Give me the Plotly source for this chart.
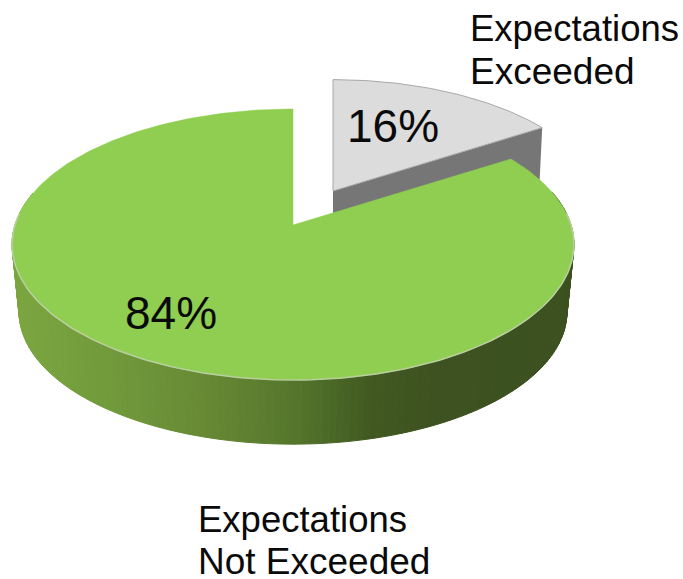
import numpy as np
import plotly.graph_objects as go

# Data
categories = ["Expectations Exceeded", "Expectations Not Exceeded"]
values = [16, 84]
value_labels = ["16%", "84%"]

# Geometry of the drawing (pixels)
CX, CY, A, B, K = 293, 225, 278, 132.7, 0.144
EX_DX, EX_DY, EX_S = 40, -34, 0.96
SHRINK, DROP = 0.975, 68

GREEN = "#8fce50"
GREY = "#dcdcdc"
GREY_SIDE = "#767676"
RIM = "#b9cfa0"
STOPS = [(12, (124, 166, 64)), (100, (114, 156, 60)), (200, (104, 138, 54)),
         (290, (86, 120, 44)), (370, (66, 90, 34)), (430, (62, 83, 32)), (575, (60, 80, 32))]


def project(theta, r=1.0):
    """Angle clockwise from 12 o'clock onto the tilted pie's top face."""
    u, v = r * np.sin(theta), r * np.cos(theta)
    s = 1 / (1 + K * v)
    return A * u * s, -B * v * s


def extrude(dx, dy):
    return CX + dx * SHRINK, CY + dy * SHRINK + DROP


def side_colour(x):
    xs = [p[0] for p in STOPS]
    rgb = [int(np.interp(x, xs, [p[1][i] for p in STOPS])) for i in range(3)]
    return f"rgb({rgb[0]},{rgb[1]},{rgb[2]})"


def poly(xs, ys, fill, line=None, width=0):
    return go.Scatter(x=list(xs), y=list(ys), mode="lines", fill="toself", fillcolor=fill,
                      line=dict(color=line or fill, width=width), hoverinfo="skip", showlegend=False)


split = 2 * np.pi * values[0] / sum(values)
fig = go.Figure()

# Exploded slice: cut-face side, then its top
tg = np.linspace(0, split, 60)
gx, gy = project(tg)
gx = CX + EX_DX + gx * EX_S
gy = CY + EX_DY + gy * EX_S
tipx, tipy = CX + EX_DX, CY + EX_DY
fig.add_trace(poly([tipx, gx[-1], gx[-1] - 3, tipx, tipx], [tipy, gy[-1], gy[-1] + 62, tipy + 62, tipy], GREY_SIDE))
fig.add_trace(poly(np.r_[tipx, gx, tipx], np.r_[tipy, gy, tipy], GREY, "#a8a8a8", 1))

# Main slice: rim as narrow strips shaded along x (only the part facing the viewer)
rim_t = np.linspace(split, 2 * np.pi, 241)
for t0, t1 in zip(rim_t[:-1], rim_t[1:]):
    if np.cos((t0 + t1) / 2) > 0.25:
        continue
    dx0, dy0 = project(t0)
    dx1, dy1 = project(t1)
    bx0, by0 = extrude(dx0, dy0)
    bx1, by1 = extrude(dx1, dy1)
    colour = side_colour(CX + (dx0 + dx1) / 2)
    fig.add_trace(poly([CX + dx0, CX + dx1, bx1, bx0, CX + dx0],
                       [CY + dy0, CY + dy1, by1, by0, CY + dy0], colour, colour, 1))

# Main slice: top face
t = np.linspace(split, 2 * np.pi, 300)
mx, my = project(t)
fig.add_trace(poly(np.r_[CX, CX + mx, CX], np.r_[CY, CY + my, CY], GREEN, GREEN, 0.5))
# Pale rim line along the front of the top face
front = np.cos(t) < 0.1
fig.add_trace(go.Scatter(x=CX + mx[front], y=CY + my[front], mode="lines",
                         line=dict(color=RIM, width=1.5), hoverinfo="skip", showlegend=False))

# Text
texts = [
    (470, 28, "Expectations", 36.5), (470, 71, "Exceeded", 37),
    (198, 519, "Expectations", 36.5), (198, 561, "Not Exceeded", 37),
    (347, 126, value_labels[0], 46), (125, 313, value_labels[1], 46),
]
for x, y, s, size in texts:
    fig.add_annotation(x=x, y=y, text=s, showarrow=False, xanchor="left", yanchor="middle",
                       xshift=-2, font=dict(family="Liberation Sans", size=size, color="#0a0a0a"))

fig.update_layout(
    width=683, height=579, margin=dict(l=0, r=0, t=0, b=0),
    paper_bgcolor="white", plot_bgcolor="white", showlegend=False,
    xaxis=dict(range=[0, 683], visible=False, fixedrange=True),
    yaxis=dict(range=[579, 0], visible=False, fixedrange=True),
)
fig.write_html("out.html", config={"displayModeBar": False},
               post_script="document.body.style.margin='0';document.body.style.overflow='hidden';")
